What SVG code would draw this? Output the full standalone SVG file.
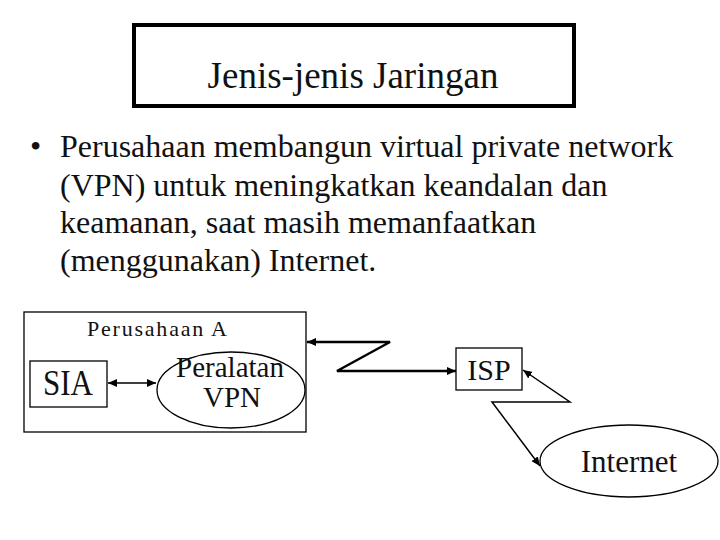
<svg xmlns="http://www.w3.org/2000/svg" width="720" height="540" viewBox="0 0 720 540">
<defs>
<marker id="ah" markerUnits="userSpaceOnUse" markerWidth="10" markerHeight="8" refX="9" refY="4" orient="auto-start-reverse">
<path d="M0,0 L9,4 L0,8 Z" fill="#000"/>
</marker>
</defs>
<style>
.t{font-family:'Liberation Serif','DejaVu Serif',serif;fill:#111}
.box{fill:none;stroke:#000;stroke-width:1.3}
.thick{fill:none;stroke:#000;stroke-width:2.5}
.thin{fill:none;stroke:#000;stroke-width:1.5}
</style>
<rect width="720" height="540" fill="#fff"/>
<g id="title">
<rect x="134" y="25" width="440" height="81" fill="none" stroke="#000" stroke-width="4"/>
<text class="t" x="353" y="88" font-size="37" text-anchor="middle">Jenis-jenis Jaringan</text>
</g>
<g id="bullet">
<text class="t" x="30" y="157" font-size="32">•</text>
<text class="t" x="60" y="157" font-size="32">Perusahaan membangun virtual private network</text>
<text class="t" x="60" y="196" font-size="32">(VPN) untuk meningkatkan keandalan dan</text>
<text class="t" x="60" y="233" font-size="32">keamanan, saat masih memanfaatkan</text>
<text class="t" x="60" y="271" font-size="32">(menggunakan) Internet.</text>
</g>
<g id="perusahaanA">
<rect class="box" x="24" y="312" width="282" height="120"/>
<text class="t" x="87" y="336" font-size="22" textLength="140" lengthAdjust="spacing">Perusahaan  A</text>
</g>
<g id="sia">
<rect class="box" x="30" y="361" width="77" height="46"/>
<text class="t" x="68" y="395" font-size="36" text-anchor="middle" textLength="50" lengthAdjust="spacingAndGlyphs">SIA</text>
</g>
<g id="vpn">
<ellipse class="box" cx="231" cy="390" rx="74" ry="38"/>
<text class="t" x="230" y="377" font-size="29" text-anchor="middle">Peralatan</text>
<text class="t" x="232" y="407" font-size="29" text-anchor="middle">VPN</text>
</g>
<g id="isp">
<rect class="box" x="456" y="348" width="66" height="42"/>
<text class="t" x="489" y="380" font-size="30" text-anchor="middle">ISP</text>
</g>
<g id="internet">
<ellipse class="box" cx="629" cy="461" rx="89" ry="36"/>
<text class="t" x="629" y="472" font-size="31" text-anchor="middle">Internet</text>
</g>
<g id="connectors">
<path class="box" d="M108,383 L156,383" stroke-width="2" marker-start="url(#ah)" marker-end="url(#ah)"/>
<path class="thick" d="M456,371 L337,371 L390,342 L307,342" marker-start="url(#ah)" marker-end="url(#ah)"/>
<path class="thin" d="M523,370 L570,402 L492,402 L540,466" marker-start="url(#ah)" marker-end="url(#ah)"/>
</g>
</svg>
